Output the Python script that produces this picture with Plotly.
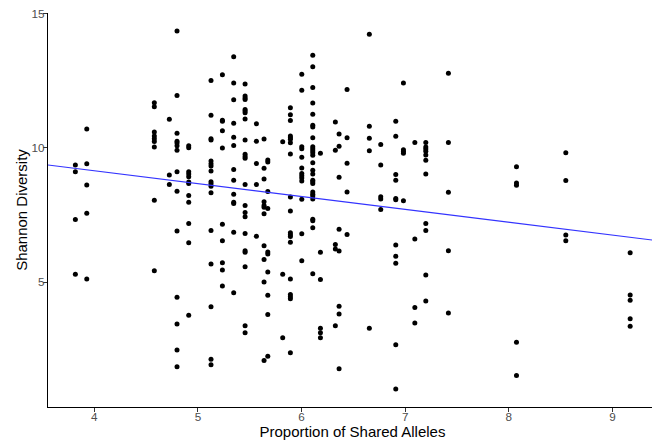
import plotly.graph_objects as go

# Distinct x positions (proportion of shared alleles) and the Shannon diversity values at each
col_x = [3.817, 3.927, 4.579, 4.724, 4.798, 4.911, 5.126, 5.236, 5.345, 5.455,
         5.564, 5.638, 5.674, 5.818, 5.892, 6.002, 6.108, 6.182, 6.326, 6.362,
         6.439, 6.654, 6.764, 6.909, 6.983, 7.093, 7.199, 7.417, 8.074, 8.55, 9.171]

col_y = [
    [9.36, 9.11, 7.34, 5.30],
    [10.70, 9.41, 8.62, 7.57, 5.12],
    [11.68, 11.53, 10.59, 10.44, 10.34, 10.24, 10.03, 8.05, 5.43],
    [11.07, 8.99, 8.64],
    [14.35, 11.95, 10.55, 10.25, 10.18, 10.08, 9.91, 9.11, 8.39, 6.91, 4.44, 3.45, 2.48, 1.86],
    [10.08, 10.01, 9.11, 9.03, 8.93, 8.73, 8.68, 8.23, 7.98, 7.19, 6.47, 3.77],
    [12.51, 11.22, 10.34, 10.29, 9.51, 9.41, 9.33, 9.14, 8.74, 8.67, 8.57, 8.33, 6.93, 5.68, 4.09, 2.14, 1.93],
    [12.72, 11.03, 10.99, 10.64, 10.00, 7.16, 6.55, 5.73, 5.46, 4.86],
    [13.39, 12.42, 11.79, 10.92, 10.40, 10.09, 9.20, 8.80, 8.28, 7.98, 7.93, 6.86, 4.61],
    [12.38, 11.93, 11.86, 11.80, 11.43, 11.37, 11.31, 11.08, 10.29, 9.76, 9.68, 9.62, 8.64, 7.86,
     7.60, 7.44, 6.82, 6.17, 6.12, 5.58, 3.38, 3.12],
    [10.90, 10.25, 9.42, 8.64, 6.71],
    [10.33, 9.24, 8.84, 8.00, 7.86, 7.79, 7.55, 6.36, 5.85, 5.01, 2.09],
    [9.55, 9.48, 8.38, 7.75, 6.13, 6.05, 5.38, 4.52, 3.80, 2.25],
    [10.23, 5.30, 2.94],
    [11.49, 11.23, 11.02, 10.44, 10.38, 10.32, 10.19, 9.77, 8.17, 7.65, 6.84, 6.77, 6.70, 6.49,
     5.12, 4.55, 4.46, 4.39, 2.38],
    [12.74, 12.15, 10.04, 9.97, 9.65, 9.25, 9.05, 8.96, 8.88, 8.77, 8.09, 6.81, 5.80],
    [13.45, 13.02, 12.25, 11.67, 11.25, 10.84, 10.78, 10.38, 10.04, 9.97, 9.89, 9.82, 9.73, 9.45,
     9.17, 9.03, 8.80, 8.74, 8.68, 8.36, 8.28, 8.21, 8.10, 7.35, 7.29, 7.03, 5.32],
    [9.80, 6.12, 5.10, 3.29, 3.12, 2.94],
    [10.96, 9.91, 6.41, 6.24, 3.38],
    [10.52, 10.06, 8.91, 6.97, 6.16, 4.11, 3.82, 1.78],
    [12.17, 10.38, 9.43, 8.36, 6.78],
    [14.23, 10.81, 10.36, 9.89, 3.29],
    [10.13, 9.36, 8.18, 8.10, 7.71],
    [10.99, 10.43, 9.01, 8.80, 8.12, 8.07, 6.39, 5.97, 5.71, 2.68, 1.03],
    [12.42, 9.93, 9.87, 9.80, 8.03],
    [10.20, 6.61, 4.06, 3.49],
    [10.20, 10.03, 9.96, 9.88, 9.74, 9.54, 9.03, 7.19, 6.93, 5.27, 4.30],
    [12.78, 10.20, 8.35, 6.17, 3.86],
    [9.30, 8.69, 8.61, 2.77, 1.53],
    [9.82, 8.79, 6.76, 6.55],
    [6.10, 4.53, 4.33, 3.64, 3.36],
]

# Linear fit
fit_intercept = 11.06
fit_slope = -0.478

x_range = [3.553, 9.43]
y_range = [0.36, 15.02]
x_ticks = [4, 5, 6, 7, 8, 9]
y_ticks = [5, 10, 15]

xs, ys = [], []
for cx, cy in zip(col_x, col_y):
    for v in cy:
        xs.append(cx)
        ys.append(v)

fig = go.Figure()
fig.add_trace(go.Scatter(
    x=xs, y=ys, mode="markers",
    marker=dict(color="black", size=5, line=dict(width=0)),
    hoverinfo="skip",
))
line_x = list(x_range)
line_y = [fit_intercept + fit_slope * v for v in line_x]
fig.add_trace(go.Scatter(
    x=line_x, y=line_y, mode="lines",
    line=dict(color="#3333ff", width=1.1),
    hoverinfo="skip",
))

axis_common = dict(
    showgrid=False, zeroline=False, showline=True, linecolor="black", linewidth=1.1,
    ticks="outside", ticklen=4, tickcolor="#333333", tickwidth=1,
    tickfont=dict(family="Liberation Sans, Arial, sans-serif", size=11.7, color="#4d4d4d"),
    ticklabeloverflow="allow",
    automargin=False,
)

# page body has an 8px margin: figure is sized/offset so the panel lands where the reference's does
fig.update_layout(
    width=652, height=433,
    margin=dict(l=40, r=3, t=5, b=34),
    paper_bgcolor="white", plot_bgcolor="white",
    showlegend=False,
    font=dict(family="Liberation Sans, Arial, sans-serif"),
    xaxis=dict(
        range=x_range, tickvals=x_ticks, ticktext=[str(t) for t in x_ticks],
        ticklabelstandoff=-5,
        title=dict(text="Proportion of Shared Alleles",
                   font=dict(size=15, color="black"), standoff=2),
        **axis_common,
    ),
    yaxis=dict(
        range=y_range, tickvals=y_ticks, ticktext=[str(t) for t in y_ticks],
        ticklabelstandoff=-4,
        title=dict(text="Shannon Diversity",
                   font=dict(size=15, color="black"), standoff=0),
        **axis_common,
    ),
)

fig.write_html("out.html")
